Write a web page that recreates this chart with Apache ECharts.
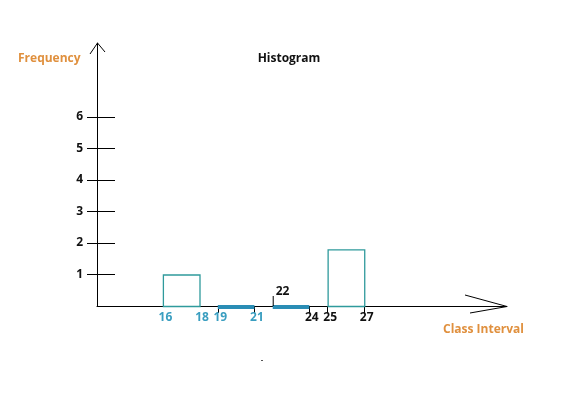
<!DOCTYPE html>
<html>
<head>
<meta charset="utf-8">
<script src="https://cdn.jsdelivr.net/npm/echarts@6/dist/echarts.min.js"></script>
<style>html,body{margin:0;padding:0;background:#fff;}#c{width:578px;height:406px;}</style>
</head>
<body>
<div id="c"></div>
<script>
// Class intervals and frequencies
var classStart = [16, 19, 22, 25];
var classEnd   = [18, 21, 24, 27];
var frequency  = [1, 0, 0, 1.8];
// Tick labels
var yTickValues = [1, 2, 3, 4, 5, 6];
var xLabelValues = [16, 18, 19, 21, 24, 25, 27];
var xTealLabels = [16, 18, 19, 21];
var xTickValues = [19, 21, 24, 25, 27];
var upperLabel = [22];

var FONT = '"Open Sans"';
var FS = 12;
var TEAL = '#2f9a9c';
var BLUE = '#2a8db5';
var TEAL_TXT = '#3a9ec0';
var ORANGE = '#e0903e';

var chart = echarts.init(document.getElementById('c'), null, {renderer: 'canvas'});

var barData = classStart.map(function (s, i) { return [s, classEnd[i], frequency[i]]; });

var option = {
  animation: false,
  backgroundColor: '#fff',
  title: {
    text: 'Histogram', left: 'center', top: 48,
    textStyle: {fontFamily: FONT, fontWeight: 'bold', fontSize: FS, color: '#111'}
  },
  grid: {left: 97, right: 71, top: 43, bottom: 100, containLabel: false},
  xAxis: {
    type: 'value', min: 12.4, max: 34.8,
    splitLine: {show: false},
    axisLine: {show: true, onZero: false, lineStyle: {color: '#000', width: 1}},
    axisTick: {show: true, customValues: xTickValues, length: 7, lineStyle: {color: '#000'}},
    axisLabel: {
      show: true, customValues: xLabelValues, margin: 6,
      fontFamily: FONT, fontWeight: 'bold', fontSize: FS,
      formatter: function (v) {
        return xTealLabels.indexOf(v) >= 0 ? '{t|' + v + '}' : '{b|' + v + '}';
      },
      rich: {
        t: {color: TEAL_TXT, fontFamily: FONT, fontWeight: 'bold', fontSize: FS, padding: [0, 0, 0, 5]},
        b: {color: '#111', fontFamily: FONT, fontWeight: 'bold', fontSize: FS, padding: [0, 0, 0, 5]}
      }
    }
  },
  yAxis: [{
    type: 'value', min: 0, max: 8.35,
    splitLine: {show: false},
    axisLine: {show: true, onZero: false, lineStyle: {color: '#000', width: 1}},
    axisTick: {show: true, customValues: yTickValues, length: 10, lineStyle: {color: '#000'}},
    axisLabel: {
      show: true, customValues: yTickValues, margin: 14,
      fontFamily: FONT, fontWeight: 'bold', fontSize: FS, color: '#111',
      verticalAlign: 'middle', padding: [4, 0, 0, 0]
    }
  }, {
    type: 'value', min: 0, max: 8.35, position: 'left',
    splitLine: {show: false},
    axisLine: {show: false},
    axisTick: {show: true, inside: true, customValues: yTickValues, length: 18, lineStyle: {color: '#000'}},
    axisLabel: {show: false}
  }],
  graphic: [
    {type: 'text', left: 18, top: 53, style: {text: 'Frequency', fill: ORANGE, font: 'bold 12px ' + FONT}},
    {type: 'text', left: 443, top: 324, style: {text: 'Class Interval', fill: ORANGE, font: 'bold 12px ' + FONT}},
    {type: 'rect', left: 261, top: 360, shape: {width: 2, height: 1}, style: {fill: '#555'}}
  ],
  series: [{
    type: 'custom',
    coordinateSystem: 'cartesian2d',
    data: barData,
    renderItem: function (params, api) {
      var p0 = api.coord([api.value(0), 0]);
      var p1 = api.coord([api.value(1), api.value(2)]);
      if (api.value(2) > 0) {
        return {
          type: 'rect',
          shape: {x: p0[0] + 0.5, y: p1[1] + 0.5, width: p1[0] - p0[0], height: p0[1] - p1[1]},
          style: {fill: 'none', stroke: TEAL, lineWidth: 1.3}
        };
      }
      return {
        type: 'rect',
        shape: {x: p0[0], y: p0[1] - 1, width: p1[0] - p0[0], height: 4},
        style: {fill: BLUE}
      };
    },
    z: 3
  }, {
    type: 'custom',
    coordinateSystem: 'cartesian2d',
    data: upperLabel.map(function (v) { return [v, 0]; }),
    renderItem: function (params, api) {
      var p = api.coord([api.value(0), 0]);
      return {
        type: 'group',
        children: [
          {type: 'line', shape: {x1: p[0] + 0.5, y1: p[1] - 10, x2: p[0] + 0.5, y2: p[1]}, style: {stroke: '#000', lineWidth: 1}},
          {type: 'text', style: {text: String(api.value(0)), x: p[0] + 3, y: p[1] - 20, fill: '#111', font: 'bold 12px ' + FONT}}
        ]
      };
    },
    z: 4
  }, {
    type: 'custom',
    coordinateSystem: 'cartesian2d',
    data: [[34.8, 0, 12.4, 8.35]],
    renderItem: function (params, api) {
      var xt = api.coord([api.value(0), api.value(1)]);
      var yt = api.coord([api.value(2), api.value(3)]);
      return {
        type: 'group',
        children: [
          {type: 'polyline', shape: {points: [[xt[0] - 42, xt[1] - 11], [xt[0], xt[1] + 0.5], [xt[0] - 37, xt[1] + 7]]}, style: {stroke: '#000', fill: 'none', lineWidth: 1}},
          {type: 'polyline', shape: {points: [[yt[0] - 7, yt[1] + 11], [yt[0] + 0.5, yt[1]], [yt[0] + 8, yt[1] + 9]]}, style: {stroke: '#000', fill: 'none', lineWidth: 1}}
        ]
      };
    },
    z: 4
  }]
};
chart.setOption(option);
</script>
</body>
</html>
